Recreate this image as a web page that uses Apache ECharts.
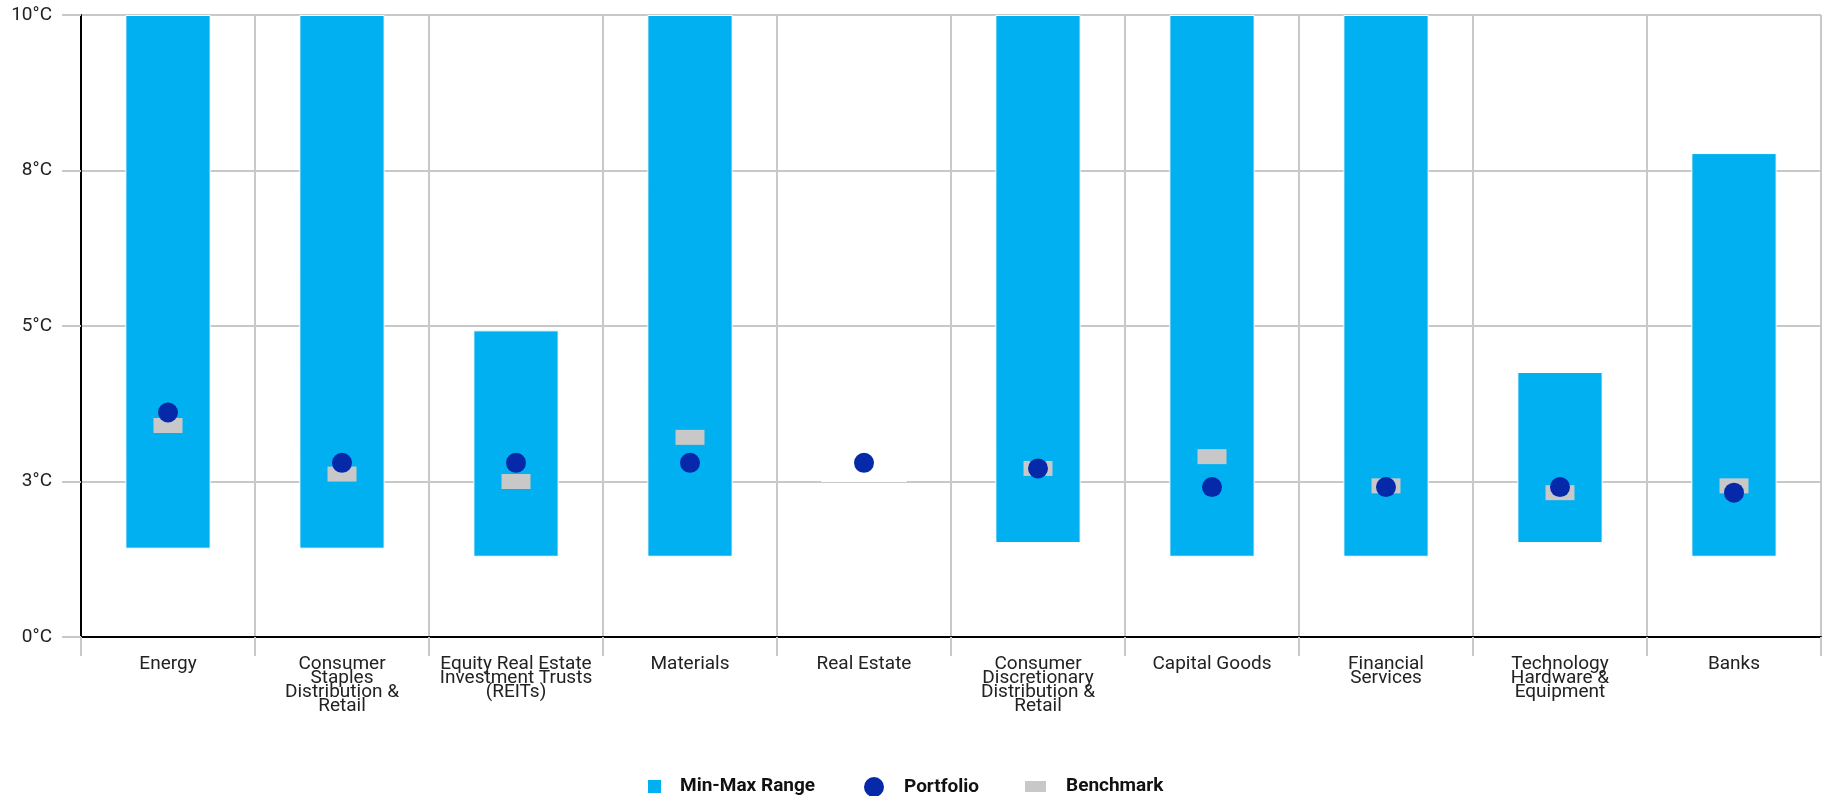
<!DOCTYPE html>
<html>
<head>
<meta charset="utf-8">
<script src="https://cdn.jsdelivr.net/npm/echarts@6/dist/echarts.min.js"></script>
<style>
html,body{margin:0;padding:0;background:#fff;}
#chart{width:1823px;height:796px;}
</style>
</head>
<body>
<div id="chart"></div>
<script>
const categories = ['Energy','Consumer Staples Distribution & Retail','Equity Real Estate Investment Trusts (REITs)','Materials','Real Estate','Consumer Discretionary Distribution & Retail','Capital Goods','Financial Services','Technology Hardware & Equipment','Banks'];
const categoryLabels = ['Energy','Consumer\nStaples\nDistribution &\nRetail','Equity Real Estate\nInvestment Trusts\n(REITs)','Materials','Real Estate','Consumer\nDiscretionary\nDistribution &\nRetail','Capital Goods','Financial\nServices','Technology\nHardware &\nEquipment','Banks'];
const rangeMin = [1.42, 1.42, 1.29, 1.29, 2.5, 1.51, 1.29, 1.29, 1.51, 1.29];
const rangeMax = [10, 10, 4.93, 10, 2.5, 10, 10, 10, 4.26, 7.78];
const portfolio = [3.61, 2.80, 2.80, 2.80, 2.80, 2.71, 2.41, 2.41, 2.41, 2.32];
const benchmark = [3.40, 2.62, 2.50, 3.21, null, 2.71, 2.90, 2.43, 2.32, 2.43];
const yTicks = [0, 2.5, 5, 7.5, 10];

const chart = echarts.init(document.getElementById('chart'));
const spread = rangeMax.map((v, i) => (v == null || rangeMin[i] == null) ? null : +(v - rangeMin[i]).toFixed(3));
const FONT = 'Roboto';
const legendText = {fontFamily: FONT, fontSize: 19, fontWeight: 'bold', color: '#111'};

chart.setOption({
  animation: false,
  textStyle: {fontFamily: FONT},
  grid: {left: 81, right: 2, top: 15, bottom: 159, containLabel: false},
  legend: [
    {data: [{name: 'Min-Max Range', icon: 'rect'}], left: 646, top: 777, padding: 0, itemWidth: 15, itemHeight: 15,
     textStyle: Object.assign({padding: [0,0,0,13]}, legendText), selectedMode: false},
    {data: [{name: 'Portfolio', icon: 'circle'}], left: 864, top: 777, padding: 0, itemWidth: 20, itemHeight: 20,
     textStyle: Object.assign({padding: [0,0,0,15]}, legendText), selectedMode: false},
    {data: [{name: 'Benchmark', icon: 'rect'}], left: 1025, top: 777, padding: 0, itemWidth: 21, itemHeight: 11,
     textStyle: Object.assign({padding: [0,0,0,15]}, legendText), selectedMode: false}
  ],
  xAxis: {
    type: 'category',
    data: categories,
    boundaryGap: true,
    axisLine: {show: true, lineStyle: {color: '#000', width: 2}},
    axisTick: {show: true, length: 19, lineStyle: {color: '#c8c8c8', width: 2}},
    splitLine: {show: true, lineStyle: {color: '#c8c8c8', width: 2}},
    axisLabel: {
      interval: 0, margin: 20, fontFamily: FONT, fontSize: 19, color: '#222', lineHeight: 14,
      formatter: (v, i) => categoryLabels[i]
    }
  },
  yAxis: {
    type: 'value', min: yTicks[0], max: yTicks[yTicks.length - 1], interval: 2.5,
    axisLine: {show: true, lineStyle: {color: '#000', width: 2}},
    axisTick: {show: true, length: 19, lineStyle: {color: '#c8c8c8', width: 2}},
    splitLine: {show: true, lineStyle: {color: '#c8c8c8', width: 2}},
    axisLabel: {margin: 29, fontFamily: FONT, fontSize: 19, color: '#222',
      formatter: v => Math.round(v) + '°C'}
  },
  series: [
    {name: 'base', type: 'bar', stack: 'range', data: rangeMin, barWidth: '49%',
     itemStyle: {color: 'transparent'}, silent: true, z: 2},
    {name: 'Min-Max Range', type: 'bar', stack: 'range', data: spread, barWidth: '49%',
     itemStyle: {color: '#00b0f0', borderColor: '#fff', borderWidth: 1}, z: 2},
    {name: 'Benchmark', type: 'scatter', data: benchmark, symbol: 'rect', symbolSize: [29, 15],
     itemStyle: {color: '#c8c8c8', opacity: 1}, z: 3},
    {name: 'Portfolio', type: 'scatter', data: portfolio, symbol: 'circle', symbolSize: 20,
     itemStyle: {color: '#0529a9', opacity: 1}, z: 4}
  ]
});
</script>
</body>
</html>
